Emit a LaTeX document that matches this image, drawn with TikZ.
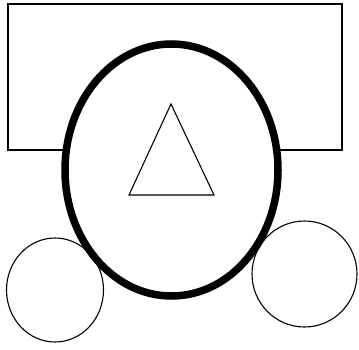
\documentclass[tikz,border=0pt]{standalone}
\begin{document}
\begin{tikzpicture}[x=1pt,y=-1pt,
  thin line/.style={draw=black,line width=1.1pt},
  thick line/.style={draw=black,line width=7.5pt}]
\useasboundingbox (0,0) rectangle (359,350);
\fill[white] (0,0) rectangle (359,350);
\draw[thin line,fill=white] (8,4) rectangle (342,150);
\draw[thick line,fill=white] (171.5,170) ellipse [x radius=106.5, y radius=126];
\draw[thin line] (171,104) -- (129,195) -- (214,195) -- cycle;
\draw[thin line] (55,290) ellipse [x radius=48.5, y radius=52];
\draw[thin line] (304.5,274) ellipse [x radius=52.5, y radius=53];
\end{tikzpicture}
\end{document}
